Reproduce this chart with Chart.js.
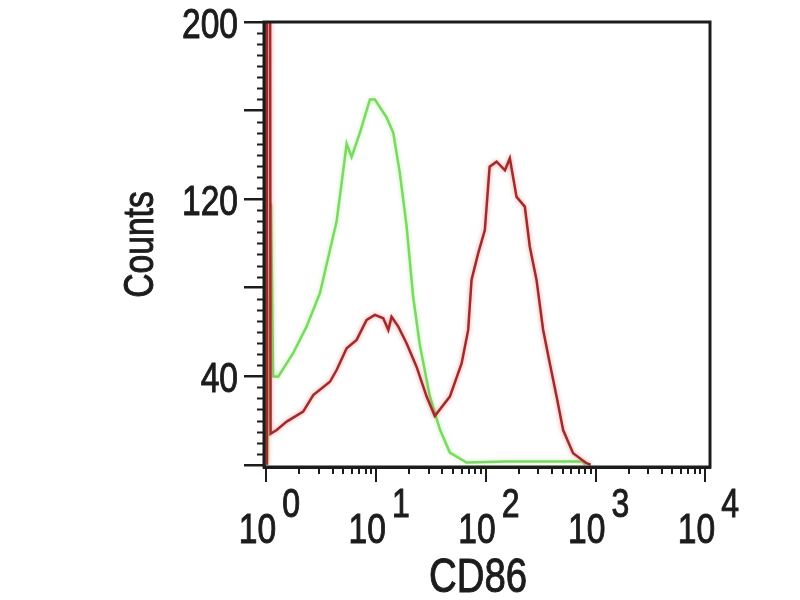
<!DOCTYPE html>
<html>
<head>
<meta charset="utf-8">
<script src="https://cdn.jsdelivr.net/npm/chart.js@4.4.0/dist/chart.umd.min.js"></script>
<style>
  html, body { margin: 0; padding: 0; background: #fff; }
  #wrap { width: 800px; height: 600px; }
</style>
</head>
<body>
<div id="wrap"><canvas id="chart" width="800" height="600"></canvas></div>
<script>
const FONT = '"Liberation Sans", Arial, Helvetica, sans-serif';
const INK = '#1c1c1c';
const SQUEEZE = 0.8; // the original lettering is narrow

// axis ticks
const xDecades = [0, 1, 2, 3, 4];
const xMinorSteps = [2, 3, 4, 5, 6, 7, 8, 9];
const yMajorTicks = [0, 40, 80, 120, 160, 200];
const yLabelled = [40, 120, 200];
const yMinorStep = 5;

// red histogram (CD86 stained)
const redX = [1.01, 1.01, 1.07, 1.09, 1.24, 1.53, 2.16, 2.67, 3.79, 4.36, 5.38, 6.63, 8.18, 9.73,
  11.6, 12.9, 13.8, 15.9, 18.9, 23.3, 28.8, 34.2, 46.9, 60, 68.9, 73.9, 84.9, 97.7, 108, 125,
  149, 165, 190, 226, 251, 289, 332, 382, 440, 505, 622, 825, 900];
const redY = [0, 400, 400, 14, 15.7, 19.5, 24, 31.5, 37.5, 42.8, 52.6, 56.4, 65.4, 67.7,
  66.2, 60.9, 66.9, 62.4, 54.9, 44.3, 30.8, 22, 30.8, 45.8, 60.9, 83.5, 95.5, 106, 134.6, 136.9,
  133, 138.4, 121, 116.6, 98.5, 83.5, 60.9, 45.8, 30.8, 15.7, 5.2, 0.7, 0];

// green histogram (isotype control)
const greenX = [1.01, 1.1, 1.15, 1.28, 1.75, 2.32, 3.07, 3.79, 4.36, 4.98, 5.38, 5.97, 7.11, 8.77,
  9.73, 12.4, 14.3, 16.4, 18.9, 21.7, 25, 30.8, 38, 46.9, 66.6, 150, 400, 760, 800];
const greenY = [0, 118, 40, 39.8, 50.4, 62.4, 77.5, 97, 110, 132, 145, 139, 150, 165,
  165, 157, 150, 132, 108, 76, 54, 31, 16, 5.5, 1, 1.5, 1.5, 1.5, 0];

function toPoints(xs, ys) { return xs.map((x, i) => ({ x, y: ys[i] })); }

function squeezedText(ctx, text, x, y, size, align, rot) {
  ctx.save();
  ctx.translate(x, y);
  if (rot) ctx.rotate(rot);
  ctx.scale(SQUEEZE, 1);
  ctx.font = size + 'px ' + FONT;
  ctx.textAlign = align;
  ctx.textBaseline = 'alphabetic';
  ctx.lineWidth = 1;
  ctx.strokeStyle = INK;
  ctx.fillText(text, 0, 0);
  ctx.strokeText(text, 0, 0);
  ctx.restore();
}

const glow = ['rgba(235, 110, 110, 0.75)', 'rgba(150, 235, 120, 0.6)'];

// frame, minor ticks, labels
const decor = {
  id: 'decor',
  beforeDatasetDraw(chart, args) {
    const ctx = chart.ctx;
    ctx.save();
    ctx.shadowColor = glow[args.index];
    ctx.shadowBlur = 4;
  },
  afterDatasetDraw(chart) {
    chart.ctx.restore();
  },
  afterDraw(chart) {
    const { ctx, chartArea: a, scales: { x, y } } = chart;
    ctx.save();
    ctx.strokeStyle = INK;
    ctx.lineWidth = 3;
    ctx.strokeRect(a.left, a.top, a.right - a.left, a.bottom - a.top);

    // minor ticks
    ctx.lineWidth = 2;
    ctx.beginPath();
    for (let v = 0; v <= 200; v += yMinorStep) {
      if (yMajorTicks.includes(v)) continue;
      const py = Math.round(y.getPixelForValue(v)) + 0.5;
      ctx.moveTo(a.left - 7, py);
      ctx.lineTo(a.left, py);
    }
    xDecades.slice(0, -1).forEach((d) => {
      xMinorSteps.forEach((m) => {
        const px = Math.round(x.getPixelForValue(m * Math.pow(10, d)));
        ctx.moveTo(px, a.bottom);
        ctx.lineTo(px, a.bottom + 7);
      });
    });
    ctx.stroke();

    ctx.fillStyle = INK;

    // y tick labels
    yLabelled.forEach((v) => {
      const py = y.getPixelForValue(v);
      squeezedText(ctx, String(v), a.left - 26, py + 16, 42, 'right');
    });

    // x tick labels 10^n
    xDecades.forEach((d) => {
      const px = x.getPixelForValue(Math.pow(10, d));
      ctx.font = '42px ' + FONT;
      const wb = ctx.measureText('10').width * SQUEEZE;
      ctx.font = '40px ' + FONT;
      const we = ctx.measureText(String(d)).width * SQUEEZE;
      const gap = 6;
      const start = px - (wb + gap + we) / 2 + 3;
      squeezedText(ctx, '10', start, a.bottom + 76, 42, 'left');
      squeezedText(ctx, String(d), start + wb + gap, a.bottom + 50, 40, 'left');
    });

    // axis titles
    squeezedText(ctx, 'CD86', (a.left + a.right) / 2 - 9, a.bottom + 125, 48, 'center');
    squeezedText(ctx, 'Counts', 153, (a.top + a.bottom) / 2, 42, 'center', -Math.PI / 2);
    ctx.restore();
  }
};

new Chart(document.getElementById('chart'), {
  type: 'line',
  data: {
    datasets: [
      {
        label: 'CD86',
        data: toPoints(redX, redY),
        borderColor: '#9e2c2c',
        borderWidth: 2.5,
        pointRadius: 0,
        tension: 0,
        fill: false
      },
      {
        label: 'Isotype',
        data: toPoints(greenX, greenY),
        borderColor: '#7ad962',
        borderWidth: 2.5,
        pointRadius: 0,
        tension: 0,
        fill: false
      }
    ]
  },
  options: {
    responsive: false,
    animation: false,
    events: [],
    layout: { padding: { top: 22, right: 90, bottom: 0, left: 0 } },
    plugins: { legend: { display: false }, tooltip: { enabled: false } },
    scales: {
      x: {
        type: 'logarithmic',
        min: 0.95,
        max: 11000,
        afterBuildTicks: (s) => { s.ticks = xDecades.map((d) => ({ value: Math.pow(10, d) })); },
        afterFit: (s) => { s.height = 133; },
        ticks: { display: false },
        grid: { drawOnChartArea: false, drawTicks: true, tickLength: 15, lineWidth: 2, color: INK },
        border: { display: true, width: 3, color: INK }
      },
      y: {
        type: 'linear',
        min: -1,
        max: 200,
        afterBuildTicks: (s) => { s.ticks = yMajorTicks.map((v) => ({ value: v })); },
        afterFit: (s) => { s.width = 264; },
        ticks: { display: false },
        grid: { drawOnChartArea: false, drawTicks: true, tickLength: 20, lineWidth: 2.5, color: INK },
        border: { display: true, width: 3, color: INK }
      }
    }
  },
  plugins: [decor]
});
</script>
</body>
</html>
